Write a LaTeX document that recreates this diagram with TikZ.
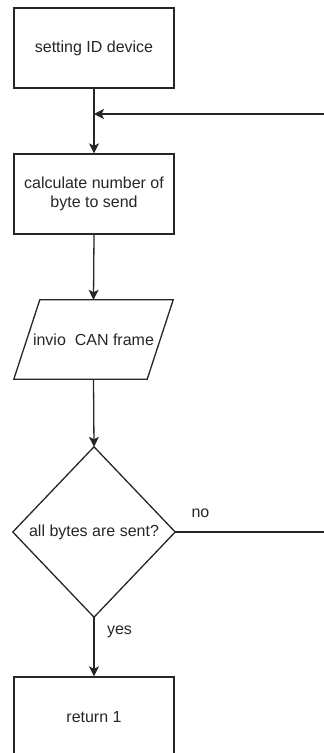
\documentclass[tikz,border=0pt]{standalone}
\usepackage{fontspec}
\setmainfont{Liberation Sans}
\usetikzlibrary{arrows.meta}
\begin{document}
\begin{tikzpicture}[x=1pt,y=-1pt,
  every node/.style={font=\fontsize{16}{18.5}\selectfont, text=black!85},
  line/.style={draw=black!85, line width=1.3pt},
  flow/.style={line, -{Stealth[length=10pt,width=10pt,inset=2.5pt]}},
  procbox/.style={line, rectangle, minimum width=160pt, minimum height=80pt, inner sep=0pt, align=center},
  frame/.style={rectangle, inner sep=0pt, align=center},
  edgelabel/.style={inner sep=0pt}]
  \useasboundingbox (0,0) rectangle (324,753);
  \clip (0,0) rectangle (324,753);

  % process steps
  \node[procbox] (setid) at (94,48) {setting ID device};
  \node[procbox] (calc) at (94,194) {calculate number of\\byte to send};

  % input/output step (parallelogram)
  \node[frame, minimum width=159pt, minimum height=79pt] (send) at (93.5,339.5) {invio\ \ CAN frame};
  \draw[line] ([xshift=26pt]send.north west) -- (send.north east)
    -- ([xshift=-26pt]send.south east) -- (send.south west) -- cycle;

  % decision (diamond)
  \node[frame, minimum width=162pt, minimum height=170pt] (check) at (94,532) {all bytes are sent?};
  \draw[line] (check.north) -- (check.east) -- (check.south) -- (check.west) -- cycle;

  % final step
  \node[procbox] (ret) at (94,717) {return 1};

  % loop-back points
  \coordinate (loopin) at (324,114);
  \coordinate (join) at (setid.south |- loopin);
  \coordinate (loopout) at (324,532);

  % connectors
  \draw[flow] (setid.south) -- (calc.north);
  \draw[flow] (loopin) -- (join);
  \draw[flow] (calc.south) -- (send.north);
  \draw[flow] (send.south) -- (check.north);
  \draw[line] (check.east) -- (loopout);
  \draw[flow] (check.south) -- (ret.north);

  % branch labels
  \node[edgelabel] (nolabel) at (200.5,513) {no};
  \node[edgelabel] (yeslabel) at (119.5,632) {yes};
\end{tikzpicture}
\end{document}
